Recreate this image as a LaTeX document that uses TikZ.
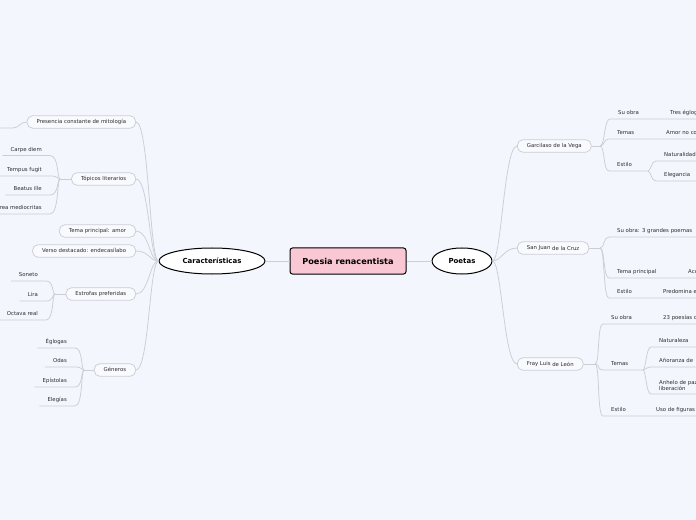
\documentclass[tikz,border=0pt]{standalone}
\usepackage{fontspec}
\setmainfont{DejaVu Sans}
\usetikzlibrary{shapes.geometric}
\definecolor{bgc}{RGB}{243,246,253}
\definecolor{lnc}{RGB}{203,206,212}
\definecolor{boxc}{RGB}{248,250,254}
\definecolor{pinkc}{RGB}{250,199,212}
\definecolor{txtc}{RGB}{45,45,45}
\newcommand{\smallfs}{\fontsize{5.4}{6.6}\selectfont}
\tikzset{
  conn/.style={draw=lnc, line width=0.75bp},
  branch/.style={draw=lnc, fill=boxc, rounded corners=5.5bp, line width=0.75bp, inner xsep=9.5bp, inner ysep=0bp, minimum height=12.5bp, text height=4bp, text depth=1.2bp, font=\smallfs, text=txtc},
  leafbase/.style={inner xsep=8bp, inner ysep=3bp, font=\smallfs, text=txtc},
  leaf/.style={leafbase, text height=4bp, text depth=1.2bp},
  mainnode/.style={draw=black, line width=1bp, fill=pinkc, rounded corners=2.5bp, minimum width=116bp, minimum height=26bp, inner sep=0pt, font=\fontsize{8.2}{9}\selectfont\bfseries},
  oval/.style={ellipse, draw=black, line width=1bp, fill=white, inner sep=0pt, minimum height=26bp, font=\fontsize{7}{8}\selectfont\bfseries},
}
\begin{document}
\begin{tikzpicture}[x=1bp,y=-1bp]
\fill[bgc] (0,0) rectangle (696,520);
\useasboundingbox (0,0) rectangle (696,520);
\clip (0,0) rectangle (696,520);

% center
\node[mainnode] (root) at (348,261) {Poesia renacentista};
\node[oval, minimum width=106bp] (cara) at (212,261) {Características};
\node[oval, minimum width=60bp] (poetas) at (462,261) {Poetas};
\draw[conn] (cara.east) -- (root.west);
\draw[conn] (root.east) -- (poetas.west);

% left branches
\node[branch, anchor=east] (pres) at (136,122) {Presencia constante de mitología};
\node[branch, anchor=east] (topi) at (136,179) {Tópicos literarios};
\node[branch, anchor=east] (tema) at (136,231) {Tema principal: amor};
\node[branch, anchor=east] (verso) at (136,251) {Verso destacado: endecasílabo};
\node[branch, anchor=east] (estr) at (136,294) {Estrofas preferidas};
\node[branch, anchor=east] (gene) at (136,370) {Géneros};
\foreach \n in {pres,topi,tema,verso,estr,gene}
  \draw[conn] (cara.west) .. controls +(-9,0) and +(13,0) .. (\n.east);

% presencia free end
\coordinate (presl) at (13,128);
\coordinate (prese) at (-2,128);
\draw[conn] (pres.west) .. controls +(-7,0) and +(6,0) .. (presl) -- (prese);

% topicos
\coordinate (topj) at (60,179);
\node[leaf, anchor=south east] (carpe) at (50,155.5) {Carpe diem};
\node[leaf, anchor=south east] (tempus) at (50,176) {Tempus fugit};
\node[leaf, anchor=south east] (beatus) at (50,195) {Beatus ille};
\node[leaf, anchor=south east] (aurea) at (50,214) {Aurea mediocritas};
\draw[conn] (topi.west) -- (topj);
\foreach \n in {carpe,tempus,beatus,aurea}
  \draw[conn] (topj) .. controls +(-3,0) and +(9,0) .. (\n.south east) -- (\n.south west);

% estrofas
\coordinate (estj) at (55,294);
\node[leaf, anchor=south east] (soneto) at (46,281) {Soneto};
\node[leaf, anchor=south east] (lira) at (46,301) {Lira};
\node[leaf, anchor=south east] (octava) at (46,320) {Octava real};
\draw[conn] (estr.west) -- (estj);
\foreach \n in {soneto,lira,octava}
  \draw[conn] (estj) .. controls +(-3,0) and +(8,0) .. (\n.south east) -- (\n.south west);

% generos
\coordinate (genj) at (84,370);
\node[leaf, anchor=south east] (eglogas) at (75,348) {Églogas};
\node[leaf, anchor=south east] (odas) at (75,367) {Odas};
\node[leaf, anchor=south east] (epist) at (75,387) {Epístolas};
\node[leaf, anchor=south east] (elegias) at (75,406) {Elegías};
\draw[conn] (gene.west) -- (genj);
\foreach \n in {eglogas,odas,epist,elegias}
  \draw[conn] (genj) .. controls +(-3,0) and +(8,0) .. (\n.south east) -- (\n.south west);

% right branches
\node[branch, anchor=west] (garc) at (517,146) {Garcilaso de la Vega};
\node[branch, anchor=west] (sanj) at (517,248) {San Juan \raisebox{-0.8bp}{de la Cruz}};
\node[branch, anchor=west] (fray) at (517,364) {Fray Luis \raisebox{-0.8bp}{de León}};
\foreach \n in {garc,sanj,fray}
  \draw[conn] (poetas.east) .. controls +(9,0) and +(-13,0) .. (\n.west);

% Garcilaso
\coordinate (gj) at (600,146);
\draw[conn] (garc.east) -- (gj);
\node[leaf, anchor=south west] (gso) at (610,119) {Su obra};
\node[leaf, anchor=south west] (gtres) at (662,119) {Tres églogas};
\node[leaf, anchor=south west] (gte) at (609,139) {Temas};
\node[leaf, anchor=south west] (gamor) at (658,139) {Amor no correspondido};
\node[leaf, anchor=south west] (ges) at (609,171) {Estilo};
\coordinate (gej) at (648,171);
\node[leaf, anchor=south west] (gnat) at (656,161) {Naturalidad};
\node[leaf, anchor=south west] (geleg) at (656,181) {Elegancia};
\draw[conn] (gj) .. controls +(5,0) and +(-6,0) .. (gso.south west) -- (gtres.south west) -- (gtres.south east);
\draw[conn] (gj) .. controls +(5,0) and +(-6,0) .. (gte.south west) -- (gamor.south west) -- (gamor.south east);
\draw[conn] (gj) .. controls +(5,0) and +(-6,0) .. (ges.south west) -- (gej);
\draw[conn] (gej) .. controls +(3,0) and +(-5,0) .. (gnat.south west) -- (gnat.south east);
\draw[conn] (gej) .. controls +(3,0) and +(-5,0) .. (geleg.south west) -- (geleg.south east);

% San Juan
\coordinate (sj) at (600,248);
\draw[conn] (sanj.east) -- (sj);
\node[leaf, anchor=south west] (sso) at (609,237) {Su obra: 3 grandes poemas};
\node[leaf, anchor=south west] (stp) at (609,278) {Tema principal};
\node[leaf, anchor=south west] (saco) at (680,278) {Acogida};
\node[leaf, anchor=south west] (sest) at (609,298) {Estilo};
\node[leaf, anchor=south west] (spred) at (655,298) {Predomina el};
\draw[conn] (sj) .. controls +(5,0) and +(-6,0) .. (sso.south west) -- (sso.south east);
\draw[conn] (sj) .. controls +(5,0) and +(-6,0) .. (stp.south west) -- (saco.south west) -- (saco.south east);
\draw[conn] (sj) .. controls +(5,0) and +(-6,0) .. (sest.south west) -- (spred.south west) -- (spred.south east);

% Fray Luis
\coordinate (fj) at (595,364);
\draw[conn] (fray.east) -- (fj);
\node[leaf, anchor=south west] (fso) at (603,324) {Su obra};
\node[leaf, anchor=south west] (fpoe) at (655,324) {23 poesías originales};
\node[leaf, anchor=south west] (fte) at (603,370) {Temas};
\coordinate (ftj) at (643,370);
\node[leaf, anchor=south west] (fnat) at (651,347) {Naturaleza};
\node[leaf, anchor=south west] (fano) at (651,367) {Añoranza de};
\node[leafbase, anchor=south west, align=left] (fanh) at (651,394) {Anhelo de paz y\\liberación};
\node[leaf, anchor=south west] (fest) at (603,416) {Estilo};
\node[leaf, anchor=south west] (fuso) at (648,416) {Uso de figuras retóricas};
\draw[conn] (fj) .. controls +(5,0) and +(-6,0) .. (fso.south west) -- (fpoe.south west) -- (fpoe.south east);
\draw[conn] (fj) .. controls +(5,0) and +(-6,0) .. (fte.south west) -- (ftj);
\draw[conn] (fj) .. controls +(5,0) and +(-6,0) .. (fest.south west) -- (fuso.south west) -- (fuso.south east);
\draw[conn] (ftj) .. controls +(3,0) and +(-5,0) .. (fnat.south west) -- (fnat.south east);
\draw[conn] (ftj) .. controls +(3,0) and +(-5,0) .. (fano.south west) -- (fano.south east);
\draw[conn] (ftj) .. controls +(3,0) and +(-5,0) .. (fanh.south west) -- (fanh.south east);
\end{tikzpicture}
\end{document}
